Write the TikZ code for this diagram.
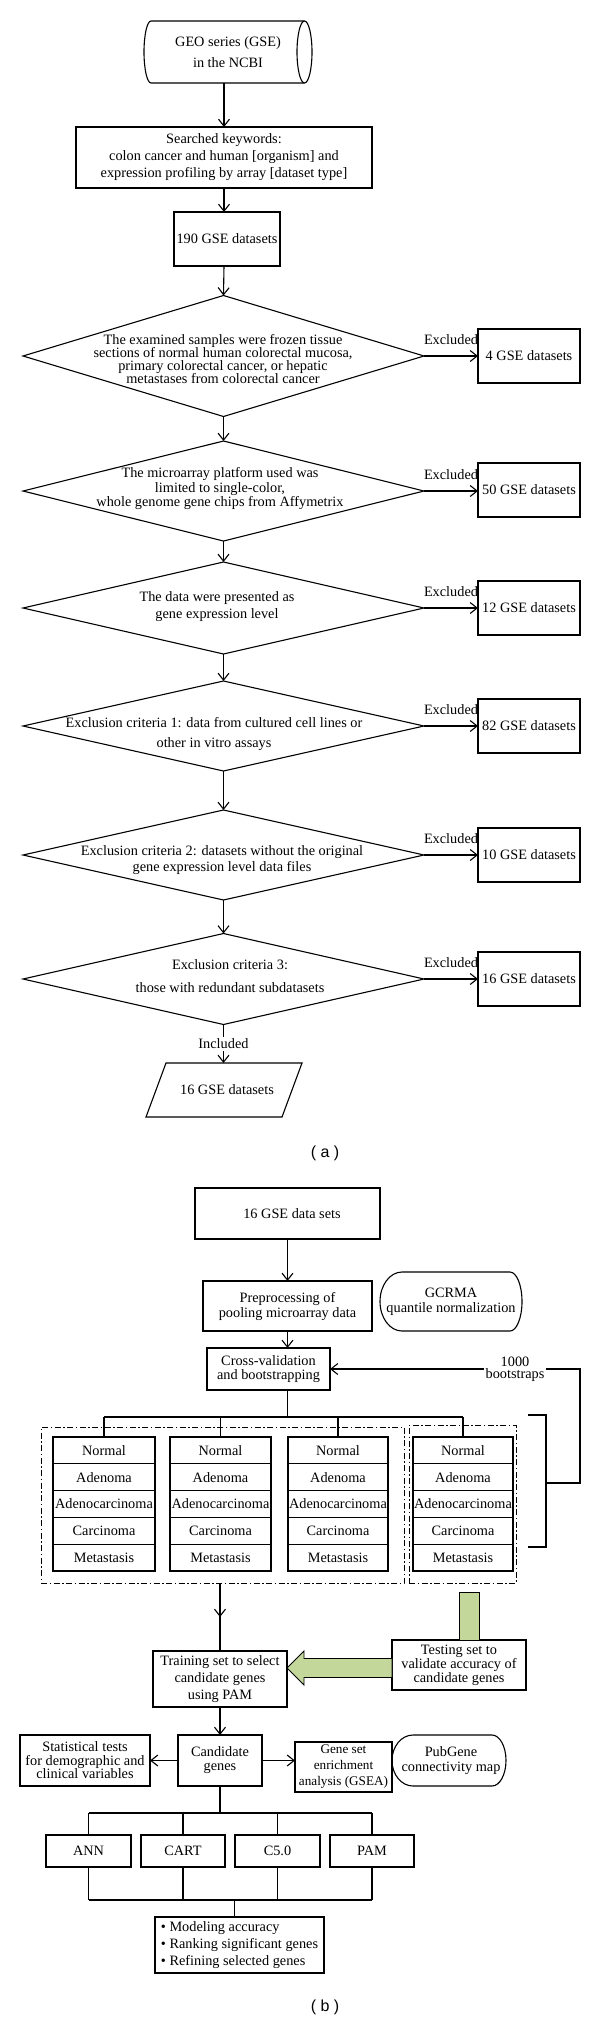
\documentclass[tikz,border=0pt]{standalone}
\usepackage{fontspec}
\setmainfont{Liberation Serif}
\newfontfamily\labfont{Liberation Sans}
\usetikzlibrary{arrows.meta,calc,decorations.markings,shapes.geometric}
\definecolor{grn}{HTML}{C4D79B}
\newcommand\ftx[1]{\fontsize{14.3}{#1}\selectfont}
\begin{document}
\begin{tikzpicture}[x=1pt,y=-1pt,line width=1.1pt,
  every node/.style={inner sep=0pt,outer sep=0pt,align=center,font=\ftx{15}},
  ls/.style={font=\ftx{#1}},
  box/.style={draw,rectangle},
  plain/.style={rectangle},
  dia/.style={draw,diamond,inner sep=0pt},
  cell/.style={draw,rectangle,minimum height=26.8pt},
  dd/.style={draw,rectangle,line width=1pt,dash pattern=on 6pt off 2.5pt on 1.5pt off 2.5pt},
  arr/.style={-{Straight Barb[length=7pt,width=11pt]}},
  midarr/.style={decoration={markings,mark=at position 0.5 with {\arrow{Straight Barb[length=7pt,width=11pt]}}},postaction=decorate},
  exbox/.style={draw,rectangle,minimum width=102pt,minimum height=54pt},
  lbl/.style={font=\labfont\fontsize{16}{16}\selectfont}]
\useasboundingbox (0,0) rectangle (600,2024);

% ---------------- part (a)
\node[plain,minimum width=168pt,minimum height=62pt,ls=21] (cyl) at (228,52) {GEO series (GSE)\\in the NCBI};
\draw ($(cyl.north west)+(7,0)$) -- ($(cyl.north east)+(-7.5,0)$)
  arc[start angle=90,end angle=-90,x radius=7.5pt,y radius=31pt]
  -- ($(cyl.south west)+(7,0)$)
  arc[start angle=270,end angle=90,x radius=7pt,y radius=31pt] -- cycle;
\draw ($(cyl.north east)+(-7.5,0)$) arc[start angle=90,end angle=270,x radius=7.5pt,y radius=31pt];

\node[box,minimum width=296pt,minimum height=61pt,ls=17] (srch) at (224,157.5) {Searched keywords:\\colon cancer and human [organism] and\\expression profiling by array [dataset type]};
\node[box,minimum width=106pt,minimum height=54pt] (b190) at (227,239) {190 GSE datasets};

\node[dia,minimum width=401pt,minimum height=121pt] (d1) at (223.5,356) {};
\node[ls=13.3] (dt1) at (223,359) {The examined samples were frozen tissue\\sections of normal human colorectal mucosa,\\primary colorectal cancer, or hepatic\\metastases from colorectal cancer};
\node[dia,minimum width=401pt,minimum height=100pt] (d2) at (223.5,491) {};
\node[ls=14.5] (dt2) at (220,489) {The microarray platform used was\\limited to single-color,\\whole genome gene chips from Affymetrix};
\node[dia,minimum width=401pt,minimum height=92pt] (d3) at (223.5,608) {};
\node[ls=17] (dt3) at (217,606.5) {The data were presented as\\gene expression level};
\node[dia,minimum width=401pt,minimum height=90pt] (d4) at (223.5,726) {};
\node[ls=20] (dt4) at (214,734) {Exclusion criteria 1: data from cultured cell lines or\\other in vitro assays};
\node[dia,minimum width=401pt,minimum height=90pt] (d5) at (223.5,855) {};
\node[ls=16] (dt5) at (222,860) {Exclusion criteria 2: datasets without the original\\gene expression level data files};
\node[dia,minimum width=401pt,minimum height=91pt] (d6) at (223.5,979) {};
\node[ls=23] (dt6) at (230,976.5) {Exclusion criteria 3:\\those with redundant subdatasets};

\node[exbox] (x1) at (529,356) {4 GSE datasets};
\node[exbox] (x2) at (529,490) {50 GSE datasets};
\node[exbox] (x3) at (529,608) {12 GSE datasets};
\node[exbox] (x4) at (529,726) {82 GSE datasets};
\node[exbox] (x5) at (529,855) {10 GSE datasets};
\node[exbox] (x6) at (529,979) {16 GSE datasets};

\node[plain,minimum width=156pt,minimum height=54pt] (par) at (224,1090) {\hspace*{6pt}16 GSE datasets};
\draw ($(par.north west)+(20,0)$) -- (par.north east) -- ($(par.south east)+(-20,0)$) -- (par.south west) -- cycle;

\draw[arr] (cyl.south -| srch.north) -- (srch.north);
\draw[arr] (srch.south) -- (srch.south |- b190.north);
\draw[arr] (srch.south |- b190.south) -- (d1.north);
\draw[arr] (d1.south) -- (d2.north);
\draw[arr] (d2.south) -- (d3.north);
\draw[arr] (d3.south) -- (d4.north);
\draw[arr] (d4.south) -- (d5.north);
\draw[arr] (d5.south) -- (d6.north);
\foreach \i in {1,...,6}
  \draw[arr] (d\i.east) -- node[above=11pt]{Excluded} (d\i.east -| x\i.west);
\draw[arr] (d6.south) -- node[fill=white,inner sep=2pt]{Included} (d6.south |- par.north);

\node[lbl] (la) at (325,1153) {( a )};

% ---------------- part (b)
\node[box,minimum width=185pt,minimum height=51pt] (g16) at (287.5,1213.5) {\hspace*{9pt}16 GSE data sets};
\node[box,minimum width=169pt,minimum height=50pt,ls=15] (pre) at (287.5,1306) {Preprocessing of\\pooling microarray data};
\node[plain,minimum width=142pt,minimum height=59pt,ls=15] (gcr) at (451,1301.5) {GCRMA\\quantile normalization};
\draw ($(gcr.north west)+(22,0)$) -- ($(gcr.north east)+(-12,0)$)
  arc[start angle=90,end angle=-90,x radius=12pt,y radius=29.5pt]
  -- ($(gcr.south west)+(22,0)$)
  arc[start angle=270,end angle=90,x radius=22pt,y radius=29.5pt] -- cycle;
\node[box,minimum width=123pt,minimum height=42pt,ls=14] (cv) at (268.5,1369) {Cross-validation\\and bootstrapping};
\draw[arr] (g16.south) -- (pre.north);
\draw[arr] (pre.south) -- (pre.south |- cv.north);

\foreach \c/\x/\w in {1/104/102,2/220.5/101,3/338/100,4/463/100} {
  \node[cell,minimum width=\w pt] (c\c r1) at (\x,1450.4) {Normal};
  \node[cell,minimum width=\w pt] (c\c r2) at (\x,1477.2) {Adenoma};
  \node[cell,minimum width=\w pt] (c\c r3) at (\x,1504.0) {Adenocarcinoma};
  \node[cell,minimum width=\w pt] (c\c r4) at (\x,1530.8) {Carcinoma};
  \node[cell,minimum width=\w pt] (c\c r5) at (\x,1557.6) {Metastasis};
}
\draw (cv.south -| pre.south) -- ++(0,27) coordinate (tj);
\draw (c1r1.north |- tj) -- (c4r1.north |- tj);
\foreach \c in {1,...,4} \draw (c\c r1.north |- tj) -- (c\c r1.north);

\node[dd,minimum width=363pt,minimum height=156pt] (gL) at (222.5,1505) {};
\node[dd,minimum width=107pt,minimum height=158pt] (gR) at (462.5,1504) {};

\coordinate (bt) at (528,1415);
\coordinate (bb) at (528,1547);
\coordinate (bm) at (546,1483);
\draw (bt) -- (bt -| bm) -- (bb -| bm) -- (bb);
\draw[arr] (bm) -- (580,1483) -- (580,1369) -- node[fill=white,inner sep=2pt,pos=0.26,ls=12]{1000\\bootstraps} (cv.east);

\node[box,minimum width=134pt,minimum height=56pt,ls=17] (train) at (220,1679) {Training set to select\\candidate genes\\using PAM};
\node[box,minimum width=134pt,minimum height=50pt,ls=14] (test) at (459,1665) {Testing set to\\validate accuracy of\\candidate genes};
\draw[midarr] (gL.south -| train.north) -- (train.north);

\coordinate (tip) at ($(train.east |- test.west)+(0,3)$);
\draw[line width=0.8pt,fill=grn] (tip) -- ++(17,-17) -- ++(0,7.5)
  -- ($(test.west |- tip)+(0,-9.5)$) -- ($(test.west |- tip)+(0,9.5)$)
  -- ($(tip)+(17,9.5)$) -- ($(tip)+(17,17)$) -- cycle;
\draw[line width=0.8pt,fill=grn] (test.north) rectangle ($(test.north)+(20,-48)$);

\node[box,minimum width=84pt,minimum height=51pt,ls=14] (cand) at (220,1760.5) {Candidate\\genes};
\node[box,minimum width=130pt,minimum height=51pt,ls=13.5] (stat) at (85,1760.5) {Statistical tests\\for demographic and\\clinical variables};
\node[box,minimum width=97pt,minimum height=50pt,font=\fontsize{13.2}{16}\selectfont] (gsea) at (343.5,1767) {Gene set\\enrichment\\analysis (GSEA)};
\node[plain,minimum width=114pt,minimum height=51pt,ls=15] (pub) at (449,1760.5) {\hspace*{4pt}PubGene\\\hspace*{4pt}connectivity map};
\draw ($(pub.north west)+(21,0)$) -- ($(pub.north east)+(-14,0)$)
  arc[start angle=90,end angle=-90,x radius=14pt,y radius=25.5pt]
  -- ($(pub.south west)+(21,0)$)
  arc[start angle=270,end angle=90,x radius=21pt,y radius=25.5pt] -- cycle;
\draw[arr] (train.south) -- (cand.north);
\draw[arr] (cand.west) -- (stat.east);
\draw[arr] (cand.east) -- (cand.east -| gsea.west);

\node[box,minimum width=85pt,minimum height=32pt] (ann) at (88.5,1851) {ANN};
\node[box,minimum width=84pt,minimum height=32pt] (cart) at (183,1851) {CART};
\node[box,minimum width=85pt,minimum height=32pt] (c50) at (277.5,1851) {C5.0};
\node[box,minimum width=84pt,minimum height=32pt] (pam) at (372,1851) {PAM};
\draw (cand.south) -- ++(0,27) coordinate (cj);
\draw (ann.north |- cj) -- (pam.north |- cj);
\foreach \n in {ann,cart,c50,pam} \draw (\n.north |- cj) -- (\n.north);

\node[box,minimum height=56pt,minimum width=169pt,align=left,ls=17] (fin) at (239.5,1945) {\textbullet\ Modeling accuracy\\\textbullet\ Ranking significant genes\\\textbullet\ Refining selected genes};
\draw (ann.south) -- ++(0,33) coordinate (bj);
\draw (ann.south |- bj) -- (pam.south |- bj);
\foreach \n in {cart,c50,pam} \draw (\n.south) -- (\n.south |- bj);
\draw ($(fin.north)+(-5,0)$) ++(0,-17) -- ($(fin.north)+(-5,0)$);

\node[lbl] (lb) at (325,2007) {( b )};
\end{tikzpicture}
\end{document}
